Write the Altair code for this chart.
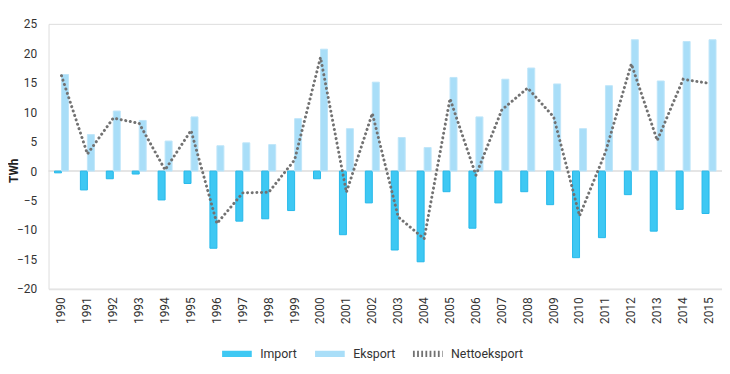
import altair as alt
import pandas as pd

years = [str(y) for y in range(1990, 2016)]
imports = [-0.3, -3.2, -1.3, -0.5, -4.9, -2.1, -13.1, -8.5, -8.1, -6.7,
           -1.3, -10.8, -5.4, -13.4, -15.4, -3.5, -9.7, -5.4, -3.5, -5.7,
           -14.7, -11.3, -4.0, -10.2, -6.5, -7.2]
exports = [16.4, 6.2, 10.2, 8.6, 5.1, 9.2, 4.3, 4.8, 4.5, 8.9,
           20.7, 7.2, 15.1, 5.7, 4.0, 15.9, 9.2, 15.6, 17.5, 14.8,
           7.2, 14.5, 22.3, 15.3, 22.0, 22.3]
net = [16.2, 2.9, 9.0, 8.1, 0.2, 6.9, -8.9, -3.7, -3.6, 1.9,
       19.3, -3.6, 9.8, -7.8, -11.5, 12.3, -0.7, 10.4, 14.1, 9.2,
       -7.6, 3.2, 18.2, 5.2, 15.6, 14.9]

series_names = ["Import", "Eksport", "Nettoeksport"]
colors = ["#3ec8f3", "#a9def8", "#727272"]

rows = []
for i, y in enumerate(years):
    rows.append({"year": y, "series": "Import", "value": imports[i]})
    rows.append({"year": y, "series": "Eksport", "value": exports[i]})
    rows.append({"year": y, "series": "Nettoeksport", "value": net[i]})
df = pd.DataFrame(rows)

FONT = "Roboto"


def make_legend():
    return alt.Legend(
        title=None, orient="none", legendX=172, legendY=315, direction="horizontal",
        symbolType="stroke", symbolSize=900, labelFontSize=12.5, labelColor="#333333",
        labelFont=FONT, columnPadding=4, labelOffset=5, symbolOpacity=1,
    )


y_scale = alt.Scale(domain=[-20, 25], nice=False, zero=False)
x_enc = alt.X(
    "year:N", sort=years,
    scale=alt.Scale(paddingInner=0.46, paddingOuter=0.23),
    axis=alt.Axis(title=None, labelAngle=-90, labelFontSize=12, labelColor="#333333",
                  labelFont=FONT, ticks=False, domainColor="#e4e4e4", domainWidth=2,
                  labelPadding=8, labelAlign="right", labelBaseline="middle"),
)
y_axis = alt.Axis(title="TWh", values=list(range(-20, 30, 5)), grid=False, domain=False,
                  ticks=False, labelFontSize=12, labelColor="#333333", labelFont=FONT,
                  labelPadding=12, titleFont=FONT, titleFontSize=12, titleFontWeight="bold",
                  titleColor="#222222", titleAngle=-90, titleX=-40, titleY=148,
                  titleAlign="center", titleBaseline="top")

zero = alt.Chart(pd.DataFrame({"v": [0]})).mark_rule(color="#dddddd", strokeWidth=1.5).encode(
    y=alt.Y("v:Q", scale=y_scale, axis=y_axis)
)

bars = alt.Chart(df).transform_filter(
    "datum.series !== 'Nettoeksport'"
).mark_bar(strokeWidth=1).encode(
    x=x_enc,
    xOffset=alt.XOffset("series:N", sort=["Import", "Eksport"], scale=alt.Scale(paddingInner=0, paddingOuter=0)),
    y=alt.Y("value:Q", scale=y_scale, axis=y_axis),
    fill=alt.Fill("series:N", scale=alt.Scale(domain=series_names[:2], range=colors[:2]), legend=None),
    stroke=alt.condition("datum.series === 'Import'", alt.value("#25b8ea"), alt.value("#bfe6f9")),
)

line = alt.Chart(df).transform_filter(
    "datum.series === 'Nettoeksport'"
).mark_line(strokeWidth=3, strokeDash=[0.1, 4.6], strokeCap="round", color=colors[2]).encode(
    x=x_enc,
    y=alt.Y("value:Q", scale=y_scale, axis=y_axis),
)

legend_layer = alt.Chart(df).transform_filter("false").mark_line().encode(
    x=x_enc,
    y=alt.Y("value:Q", scale=y_scale, axis=y_axis),
    color=alt.Color("series:N", scale=alt.Scale(domain=series_names, range=colors), legend=make_legend()),
    strokeWidth=alt.StrokeWidth("series:N", scale=alt.Scale(domain=series_names, range=[6.5, 6.5, 2]), legend=make_legend()),
    strokeDash=alt.StrokeDash("series:N", scale=alt.Scale(domain=series_names, range=[[1, 0], [1, 0], [1.8, 2.4]]), legend=make_legend()),
)

chart = alt.layer(zero, bars, line, legend_layer).properties(
    width=681, height=268,
    autosize=alt.AutoSizeParams(type="none"),
    padding={"left": 41, "top": 14, "right": 0, "bottom": 80},
).configure_view(stroke=None).configure(font=FONT)

chart.save("out.html", embed_options={"renderer": "svg", "actions": False})
